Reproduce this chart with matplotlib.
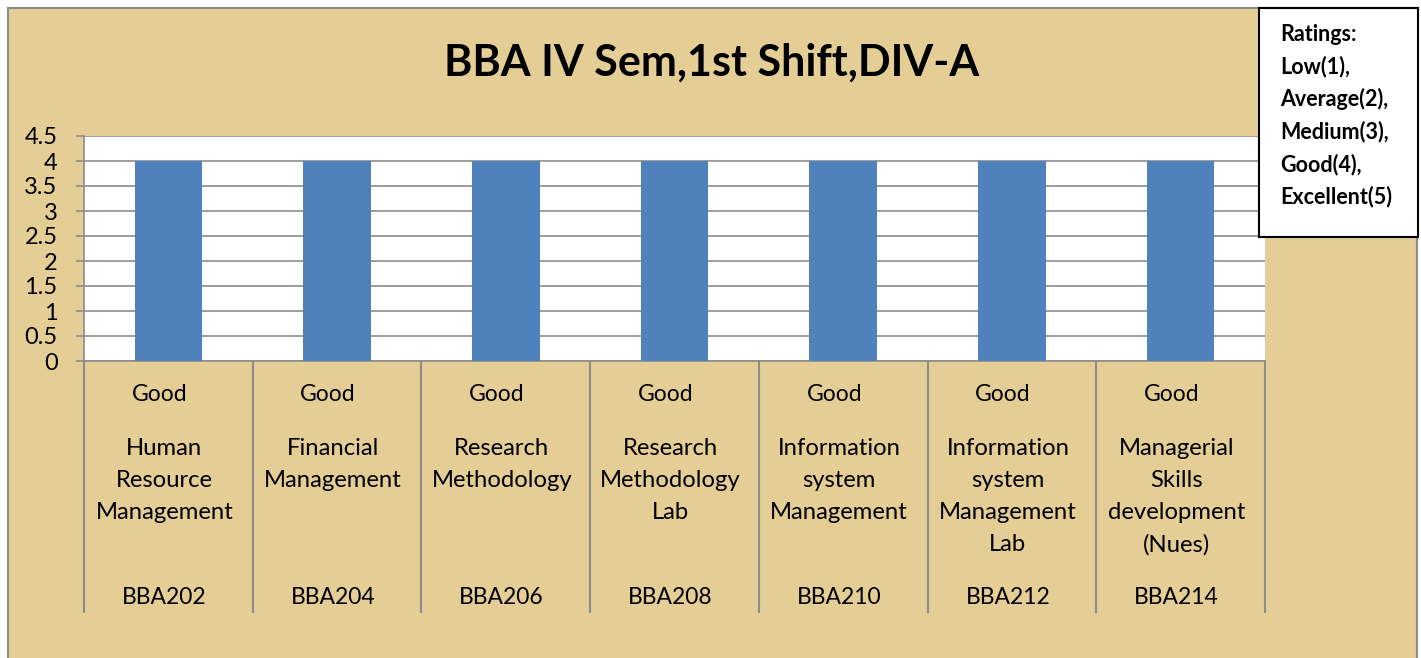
import numpy as np
import matplotlib.pyplot as plt
from matplotlib.patches import Rectangle
from matplotlib.ticker import FormatStrFormatter

plt.rcParams['font.family'] = ['Lato', 'DejaVu Sans']

# chart data
codes = ['BBA202', 'BBA204', 'BBA206', 'BBA208', 'BBA210', 'BBA212', 'BBA214']
subjects = ['Human\nResource\nManagement', 'Financial\nManagement', 'Research\nMethodology',
            'Research\nMethodology\nLab', 'Information\nsystem\nManagement',
            'Information\nsystem\nManagement\nLab', 'Managerial\nSkills\ndevelopment\n(Nues)']
ratings = ['Good', 'Good', 'Good', 'Good', 'Good', 'Good', 'Good']
values = [4, 4, 4, 4, 4, 4, 4]
yticks = [0, 0.5, 1, 1.5, 2, 2.5, 3, 3.5, 4, 4.5]

W, H = 1421, 658
bg = '#E4CE96'
grid_col = '#8C8C8C'

fig = plt.figure(figsize=(W / 100, H / 100), dpi=100)
fig.patch.set_facecolor('white')
# chart area (parchment), runs past the bottom edge
fig.patches.append(Rectangle((8 / W, -10 / H), 1409 / W, 660 / H, transform=fig.transFigure,
                             facecolor=bg, edgecolor='#8C8C8C', lw=1.5, zorder=-1))

ax = fig.add_axes([84 / W, 1 - 361 / H, (1265 - 84) / W, (361 - 136) / H])
ax.set_zorder(1)
ax.set_facecolor('white')
n = len(codes)
x = np.arange(n) + 0.5
ax.bar(x, values, width=0.4, color='#4F81BD', zorder=3)
ax.set_xlim(0, n)
ax.set_ylim(0, 4.5)
ax.set_yticks(yticks)
ax.yaxis.set_major_formatter(FormatStrFormatter('%g'))
ax.yaxis.grid(True, color=grid_col, lw=1.2, zorder=1)
ax.set_axisbelow(True)
ax.tick_params(axis='y', length=6, color=grid_col, width=1.2, labelsize=17, pad=13)
ax.set_xticks([])
for s in ['top', 'right']:
    ax.spines[s].set_visible(False)
for s in ['left', 'bottom']:
    ax.spines[s].set_color(grid_col)
    ax.spines[s].set_linewidth(1.2)

# multi-level category axis (labels sit a little left of the column centre)
tr = ax.get_xaxis_transform()
for b in range(n + 1):
    ax.plot([b, b], [0, -1.116], color=grid_col, lw=1.5, transform=tr, clip_on=False)
for i in range(n):
    ax.text(x[i] - 0.053, -0.151, ratings[i], transform=tr, ha='center', va='center', fontsize=16.5)
    ax.text(x[i] - 0.024, -0.343, subjects[i], transform=tr, ha='center', va='top', fontsize=17.2,
            linespacing=1.64)
    ax.text(x[i] - 0.024, -1.049, codes[i], transform=tr, ha='center', va='center', fontsize=16.5)

fig.text(712 / W, 1 - 63 / H, 'BBA IV Sem,1st Shift,DIV-A', ha='center', va='center',
         fontsize=31, fontweight='bold')

# ratings box
box_ax = fig.add_axes([1259 / W, 1 - 237 / H, 159 / W, 229 / H])
box_ax.set_zorder(5)
box_ax.set_xticks([])
box_ax.set_yticks([])
for s in box_ax.spines.values():
    s.set_linewidth(1.5)
    s.set_color('black')
box_ax.text(21 / 159, 1 - 16 / 229, 'Ratings:\nLow(1),\nAverage(2),\nMedium(3),\nGood(4),\nExcellent(5)',
            transform=box_ax.transAxes, ha='left', va='top', fontsize=15.5, fontweight='bold',
            linespacing=1.6)

fig.savefig('out.png', dpi=100, facecolor=fig.get_facecolor())
